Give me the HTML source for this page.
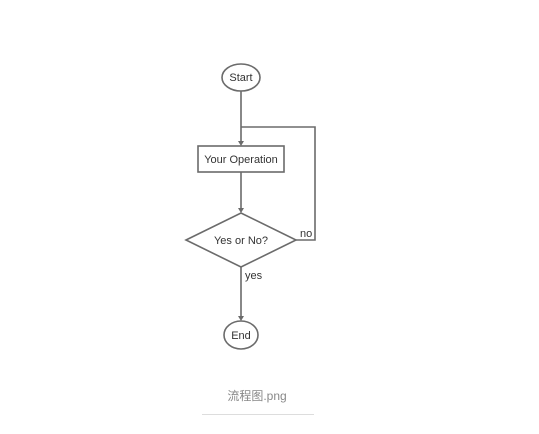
<!DOCTYPE html>
<html><head><meta charset="utf-8"><style>
html,body{margin:0;padding:0;background:#fff;}
svg{display:block}
</style></head><body>
<svg width="539" height="434" viewBox="0 0 539 434" xmlns="http://www.w3.org/2000/svg" font-family="Liberation Sans, Arial, sans-serif">
<g stroke="#6b6b6b" stroke-width="1.6" fill="none">
<ellipse cx="241" cy="77.5" rx="19" ry="13.5" fill="#fff"/>
<line x1="241" y1="91" x2="241" y2="143"/>
<polyline points="241,127 315,127 315,240 296,240"/>
<rect x="198" y="146" width="86" height="26" fill="#fff"/>
<line x1="241" y1="172" x2="241" y2="210"/>
<polygon points="186,240 241,213 296,240 241,267" fill="#fff"/>
<line x1="241" y1="267" x2="241" y2="318"/>
<ellipse cx="241" cy="335" rx="17" ry="14" fill="#fff"/>
</g>
<g fill="#6b6b6b">
<polygon points="238,141 244,141 241,146"/>
<polygon points="238,208 244,208 241,213"/>
<polygon points="238,316 244,316 241,321"/>
</g>
<g fill="#333" font-size="11">
<text x="241" y="81" text-anchor="middle">Start</text>
<text x="241" y="163" text-anchor="middle">Your Operation</text>
<text x="241" y="244" text-anchor="middle">Yes or No?</text>
<text x="241" y="339" text-anchor="middle">End</text>
<text x="300" y="237">no</text>
<text x="245" y="279">yes</text>
</g>
<text x="257" y="400" text-anchor="middle" fill="#888" font-size="12" font-family="Liberation Sans, Noto Sans CJK SC, sans-serif">流程图.png</text>
<line x1="202" y1="414.5" x2="314" y2="414.5" stroke="#ddd" stroke-width="1"/>
</svg>
</body></html>
